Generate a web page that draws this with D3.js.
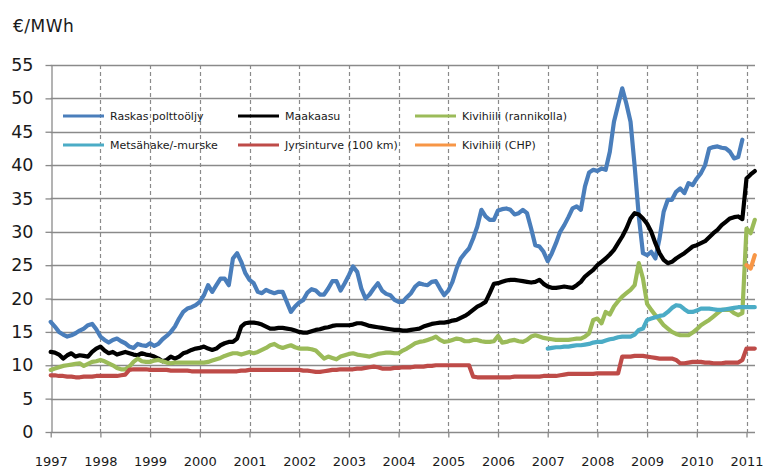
<!DOCTYPE html>
<html>
<head>
<meta charset="utf-8">
<script src="https://cdn.jsdelivr.net/npm/d3@7"></script>
<style>
  html, body { margin: 0; padding: 0; background: #fff; }
  svg { display: block; font-family: "DejaVu Sans", sans-serif; }
</style>
</head>
<body>
<svg id="chart" width="767" height="468"></svg>
<script>
// ---------- DATA ----------
const unitLabel = "€/MWh";
const yearTicks = [1997,1998,1999,2000,2001,2002,2003,2004,2005,2006,2007,2008,2009,2010,2011];
const valueTicks = [0,5,10,15,20,25,30,35,40,45,50,55];

const seriesNames = ["Raskas polttoöljy","Maakaasu","Kivihiili (rannikolla)","Metsähake/-murske","Jyrsinturve (100 km)","Kivihiili (CHP)"];
const seriesColors = ["#4A7EBB","#000000","#9BBB59","#4BACC6","#BE4B48","#F79646"];
// first month of each series (year, month index 0-11)
const seriesStart = [[1997,0],[1997,0],[1997,0],[2007,0],[1997,0],[2011,0]];

// monthly values
const raskasPolttooljy = [
  16.5,15.8,15.0,14.6,14.3,14.5,14.8,15.2,15.5,16.0,16.2,15.4,
  14.3,13.8,13.4,13.8,14.0,13.6,13.3,12.8,12.6,13.2,13.0,12.9,
  13.3,12.9,13.2,13.9,14.4,15.0,15.8,17.0,18.0,18.5,18.7,19.0,
  19.5,20.5,22.0,21.0,22.0,23.0,23.0,22.0,26.0,26.8,25.5,23.8,
  22.8,22.3,21.0,20.8,21.3,21.0,20.8,21.0,21.0,19.5,18.0,18.8,
  19.4,19.8,20.9,21.4,21.2,20.6,20.6,21.5,22.6,22.6,21.2,22.3,
  23.5,24.8,24.0,21.5,20.0,20.6,21.5,22.3,21.2,20.7,20.5,19.8,
  19.5,19.5,20.2,20.8,21.8,22.3,22.1,22.0,22.5,22.6,21.5,20.5,
  21.2,22.5,24.5,26.0,26.8,27.5,29.0,30.8,33.3,32.3,31.8,31.8,
  33.2,33.4,33.5,33.3,32.6,32.8,33.3,32.8,30.5,28.0,27.8,27.0,
  25.6,26.8,28.3,30.0,31.0,32.2,33.5,33.8,33.3,36.8,38.9,39.3,
  39.1,39.5,39.3,42.0,46.5,49.0,51.5,49.2,46.5,39.8,32.3,26.8,
  26.5,27.0,26.0,29.0,33.0,34.8,34.8,36.0,36.5,35.8,37.3,37.0,
  38.0,38.8,40.0,42.5,42.7,42.8,42.6,42.5,42.0,41.0,41.2,43.8
];
const maakaasu = [
  12.0,11.9,11.6,11.0,11.5,11.8,11.3,11.5,11.4,11.3,12.0,12.5,
  12.8,12.2,11.8,12.0,11.6,11.8,12.0,11.8,11.6,11.5,11.8,11.6,
  11.5,11.3,11.0,10.6,10.8,11.3,11.0,11.3,11.8,12.0,12.3,12.5,
  12.6,12.8,12.5,12.3,12.5,13.0,13.3,13.5,13.5,14.0,15.8,16.3,
  16.4,16.4,16.3,16.1,15.8,15.5,15.5,15.6,15.6,15.5,15.4,15.2,
  15.0,14.9,14.9,15.1,15.3,15.4,15.6,15.7,15.9,16.0,16.0,16.0,
  16.0,16.1,16.3,16.3,16.1,15.9,15.8,15.7,15.6,15.5,15.4,15.3,
  15.3,15.2,15.2,15.3,15.4,15.5,15.8,16.0,16.2,16.3,16.4,16.4,
  16.5,16.7,16.8,17.1,17.4,17.8,18.3,18.8,19.1,19.5,20.8,22.2,
  22.3,22.5,22.7,22.8,22.8,22.7,22.6,22.5,22.4,22.5,22.8,22.2,
  21.8,21.6,21.6,21.7,21.8,21.7,21.6,22.0,22.5,23.3,23.8,24.3,
  25.0,25.5,26.0,26.6,27.3,28.3,29.3,30.5,32.0,32.8,32.6,32.0,
  31.2,30.0,28.3,26.8,25.8,25.3,25.5,26.0,26.4,26.8,27.3,27.8,
  28.0,28.3,28.6,29.2,29.8,30.3,31.0,31.5,32.0,32.2,32.3,31.9,
  38.0,38.6,39.1
];
const kivihiiliRannikolla = [
  9.3,9.5,9.7,9.9,10.0,10.1,10.2,10.3,9.9,10.2,10.5,10.6,
  10.8,10.6,10.3,10.0,9.6,9.4,9.4,9.8,10.5,11.0,10.6,10.5,
  10.5,10.7,10.8,10.6,10.4,10.3,10.4,10.4,10.4,10.4,10.4,10.4,
  10.4,10.4,10.5,10.7,10.9,11.1,11.4,11.6,11.8,11.8,11.6,11.8,
  12.0,11.8,12.0,12.3,12.6,13.0,13.2,12.8,12.6,12.8,13.0,12.7,
  12.5,12.5,12.5,12.4,12.2,11.6,11.0,11.3,11.1,10.9,11.3,11.5,
  11.7,11.8,11.6,11.5,11.4,11.3,11.5,11.7,11.8,11.9,11.9,11.8,
  11.8,12.2,12.5,12.9,13.3,13.5,13.6,13.8,14.0,14.3,13.8,13.5,
  13.6,13.8,14.0,13.9,13.6,13.6,13.8,13.8,13.6,13.5,13.5,13.6,
  14.4,13.4,13.5,13.7,13.8,13.6,13.5,13.8,14.3,14.5,14.3,14.1,
  14.0,13.9,13.8,13.8,13.8,13.8,13.9,14.0,14.0,14.3,14.8,16.8,
  17.0,16.3,18.0,17.6,18.8,19.6,20.3,20.8,21.3,22.0,25.3,23.0,
  19.2,18.3,17.5,16.8,16.0,15.5,15.0,14.7,14.5,14.5,14.5,14.9,
  15.4,16.0,16.4,16.8,17.3,17.8,18.3,18.3,18.3,17.8,17.5,17.8,
  30.5,29.8,31.8
];
const metsahakeMurske = [
  12.5,12.6,12.7,12.7,12.8,12.8,12.9,13.0,13.0,13.1,13.2,13.4,
  13.5,13.5,13.7,13.9,14.0,14.2,14.3,14.3,14.3,14.6,15.3,15.5,
  16.8,17.0,17.2,17.4,17.5,18.0,18.6,19.0,18.9,18.4,18.0,18.0,
  18.2,18.5,18.5,18.5,18.4,18.3,18.3,18.4,18.5,18.6,18.7,18.7,
  18.7,18.7,18.7
];
const jyrsinturve = [
  8.5,8.5,8.4,8.4,8.3,8.3,8.2,8.2,8.3,8.3,8.3,8.4,
  8.4,8.4,8.4,8.4,8.4,8.5,8.6,9.3,9.4,9.4,9.4,9.4,
  9.3,9.3,9.3,9.3,9.3,9.2,9.2,9.2,9.2,9.2,9.1,9.1,
  9.1,9.1,9.1,9.1,9.1,9.1,9.1,9.1,9.1,9.1,9.2,9.2,
  9.3,9.3,9.3,9.3,9.3,9.3,9.3,9.3,9.3,9.3,9.3,9.3,
  9.3,9.2,9.2,9.1,9.0,9.0,9.1,9.2,9.3,9.3,9.4,9.4,
  9.4,9.4,9.5,9.5,9.6,9.7,9.8,9.7,9.5,9.5,9.5,9.6,
  9.6,9.7,9.7,9.7,9.8,9.8,9.8,9.9,9.9,10.0,10.0,10.0,
  10.0,10.0,10.0,10.0,10.0,10.0,8.3,8.2,8.2,8.2,8.2,8.2,
  8.2,8.2,8.2,8.2,8.3,8.3,8.3,8.3,8.3,8.3,8.3,8.4,
  8.4,8.4,8.4,8.5,8.6,8.7,8.7,8.7,8.7,8.7,8.7,8.7,
  8.8,8.8,8.8,8.8,8.8,8.8,11.3,11.3,11.3,11.4,11.4,11.4,
  11.3,11.2,11.1,11.0,11.0,11.0,11.0,10.8,10.3,10.3,10.4,10.5,
  10.5,10.5,10.4,10.4,10.3,10.3,10.3,10.4,10.4,10.4,10.4,10.8,
  12.5,12.5,12.5
];
const kivihiiliCHP = [25.0,24.5,26.5];

const seriesValues = [raskasPolttooljy, maakaasu, kivihiiliRannikolla, metsahakeMurske, jyrsinturve, kivihiiliCHP];

// ---------- CHART ----------
(function () {
const svg = d3.select("#chart");
const plotLeft = 50.7, plotRight = 755, plotTop = 65, plotBottom = 432;
const xEndTick = 746.5;

const x = d3.scaleLinear().domain([1997, 2011]).range([plotLeft, xEndTick]);
const y = d3.scaleLinear().domain([0, 55]).range([plotBottom, plotTop]);
const gridColor = "#8a8a8a";

// horizontal gridlines
svg.append("g").selectAll("line").data(valueTicks).join("line")
  .attr("x1", plotLeft).attr("x2", plotRight)
  .attr("y1", d => Math.round(y(d)) + 0.5).attr("y2", d => Math.round(y(d)) + 0.5)
  .attr("stroke", gridColor).attr("stroke-width", 1.3);

// vertical dashed gridlines
svg.append("g").selectAll("line").data(yearTicks.slice(1)).join("line")
  .attr("x1", d => Math.round(x(d)) + 0.5).attr("x2", d => Math.round(x(d)) + 0.5)
  .attr("y1", plotTop).attr("y2", plotBottom)
  .attr("stroke", gridColor).attr("stroke-width", 1.2)
  .attr("stroke-dasharray", "4,3");

// y axis
const yAxis = svg.append("g")
  .attr("transform", `translate(${Math.round(plotLeft) + 0.5},0)`)
  .call(d3.axisLeft(y).tickValues(valueTicks).tickSize(6).tickSizeOuter(0).tickPadding(12));
yAxis.select(".domain").attr("stroke", gridColor).attr("stroke-width", 1.3);
yAxis.selectAll(".tick line").attr("stroke", gridColor).attr("stroke-width", 1.3);
yAxis.selectAll(".tick text").attr("font-size", 17.5).attr("fill", "#1a1a1a")
  .attr("font-family", "DejaVu Sans, sans-serif");

// x axis
const xAxis = svg.append("g")
  .attr("transform", `translate(0,${Math.round(plotBottom) + 0.5})`)
  .call(d3.axisBottom(x).tickValues(yearTicks).tickFormat(d3.format("d")).tickSize(5).tickSizeOuter(0).tickPadding(19));
xAxis.select(".domain").remove();
xAxis.selectAll(".tick line").attr("stroke", gridColor).attr("stroke-width", 1.3);
xAxis.selectAll(".tick text").attr("font-size", 13).attr("fill", "#1a1a1a")
  .attr("font-family", "DejaVu Sans, sans-serif");

// unit label
svg.append("text").attr("x", 13).attr("y", 32).attr("font-size", 17)
  .attr("fill", "#1a1a1a").attr("letter-spacing", 0.5).text(unitLabel);

// lines
const line = d3.line().x(d => x(d.t)).y(d => y(d.v));
seriesValues.forEach((vals, i) => {
  const [sy, sm] = seriesStart[i];
  const pts = vals.map((v, k) => ({ t: sy + (sm + k) / 12, v }));
  svg.append("path").datum(pts)
    .attr("d", line)
    .attr("fill", "none")
    .attr("stroke", seriesColors[i])
    .attr("stroke-width", 4.2)
    .attr("stroke-linejoin", "round")
    .attr("stroke-linecap", "round");
});

// legend
const legendCols = [63, 238, 415];
const legendRows = [116, 145];
const legendOrder = [[0,0,0],[1,0,1],[2,0,2],[3,1,0],[4,1,1],[5,1,2]];
legendOrder.forEach(([i, r, c]) => {
  const lx = legendCols[c], ly = legendRows[r];
  svg.append("line").attr("x1", lx).attr("x2", lx + 41).attr("y1", ly).attr("y2", ly)
    .attr("stroke", seriesColors[i]).attr("stroke-width", 3.2);
  svg.append("text").attr("x", lx + 47).attr("y", ly + 4).attr("font-size", 11)
    .attr("fill", "#1a1a1a").text(seriesNames[i]);
});
})();
</script>
</body>
</html>
